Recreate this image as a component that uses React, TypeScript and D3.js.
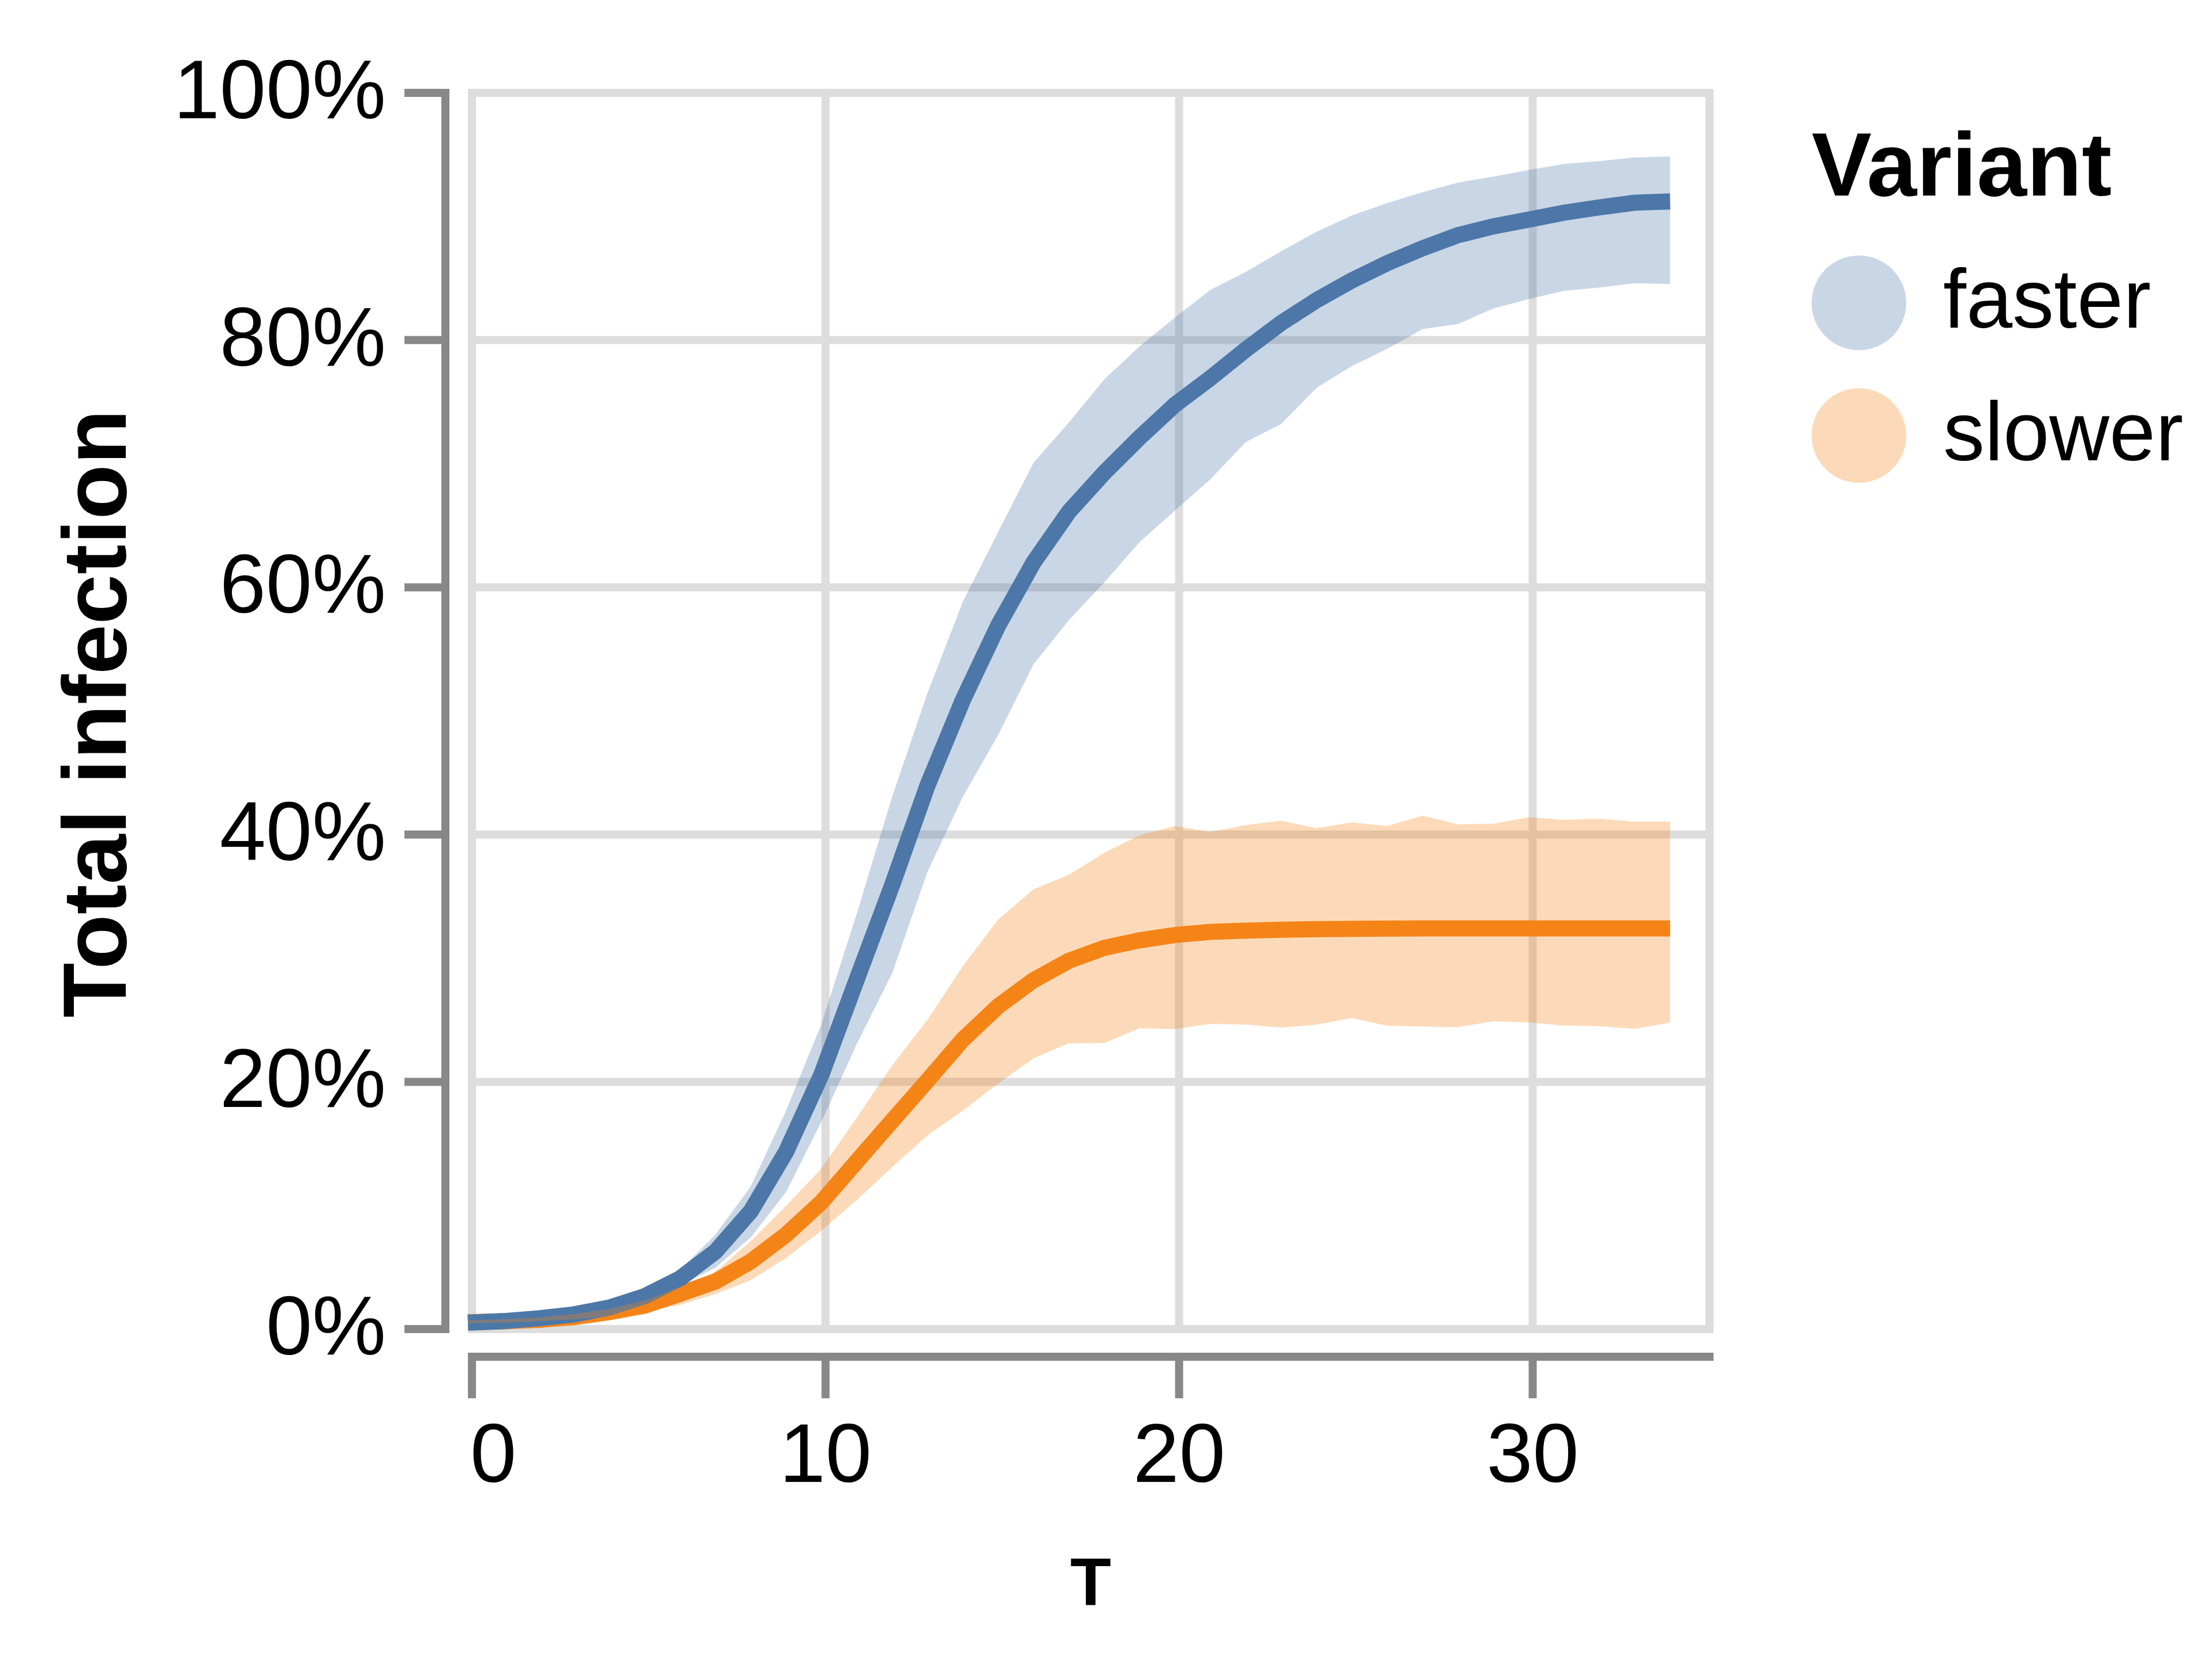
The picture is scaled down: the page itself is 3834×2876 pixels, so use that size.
import React, { useEffect, useRef } from 'react';
import * as d3 from 'd3';

// time steps
const tValues = [0, 1, 2, 3, 4, 5, 6, 7, 8, 9, 10, 11, 12, 13, 14, 15, 16, 17, 18, 19, 20, 21, 22, 23, 24, 25, 26, 27, 28, 29, 30, 31, 32, 33, 34];

const variants = ['faster', 'slower'];

// mean total infection and the band around it, per variant
const fasterMean = [0.0019, 0.0031, 0.0054, 0.0086, 0.0141, 0.0233, 0.0377, 0.0594, 0.092, 0.1402, 0.2027, 0.2797, 0.356, 0.4366, 0.5057, 0.566, 0.617, 0.658, 0.6895, 0.718, 0.7445, 0.766, 0.789, 0.8105, 0.829, 0.845, 0.859, 0.871, 0.8816, 0.8887, 0.8942, 0.8998, 0.9041, 0.9079, 0.9089];
const fasterLower = [0.0015, 0.0026, 0.0045, 0.007, 0.012, 0.02, 0.032, 0.0463, 0.0708, 0.1077, 0.1646, 0.2275, 0.2847, 0.3668, 0.4274, 0.4775, 0.5346, 0.5703, 0.6008, 0.6334, 0.659, 0.6842, 0.7143, 0.7289, 0.7581, 0.7758, 0.7897, 0.8057, 0.8097, 0.8223, 0.8299, 0.8366, 0.8393, 0.8428, 0.8422];
const fasterUpper = [0.0024, 0.0037, 0.0064, 0.0102, 0.016, 0.027, 0.0445, 0.0731, 0.1121, 0.1735, 0.2436, 0.3329, 0.4275, 0.5114, 0.5852, 0.6417, 0.6977, 0.7302, 0.765, 0.7918, 0.8151, 0.8374, 0.8519, 0.8687, 0.8843, 0.8976, 0.9076, 0.9164, 0.9242, 0.929, 0.9343, 0.9392, 0.9416, 0.9445, 0.9453];

const slowerMean = [0.0022, 0.003, 0.0042, 0.0064, 0.0104, 0.0157, 0.0252, 0.0351, 0.0514, 0.0731, 0.0994, 0.1324, 0.1652, 0.1978, 0.231, 0.2579, 0.279, 0.2947, 0.3051, 0.3112, 0.3155, 0.318, 0.319, 0.3198, 0.3202, 0.3205, 0.3207, 0.3208, 0.3208, 0.3208, 0.3208, 0.3208, 0.3208, 0.3208, 0.3208];
const slowerLower = [0.0014, 0.002, 0.003, 0.0045, 0.007, 0.011, 0.0162, 0.0251, 0.0363, 0.0541, 0.0764, 0.101, 0.1278, 0.1534, 0.1735, 0.1954, 0.2157, 0.2279, 0.2281, 0.2401, 0.2394, 0.2436, 0.243, 0.2405, 0.243, 0.2482, 0.2421, 0.2415, 0.2409, 0.2457, 0.2448, 0.2423, 0.2417, 0.2396, 0.2446];
const slowerUpper = [0.0037, 0.0045, 0.006, 0.009, 0.013, 0.02, 0.031, 0.0432, 0.0678, 0.0965, 0.1266, 0.1679, 0.21, 0.2471, 0.2904, 0.3282, 0.3525, 0.3642, 0.382, 0.3962, 0.4036, 0.3988, 0.4044, 0.4079, 0.4019, 0.4065, 0.4036, 0.412, 0.405, 0.4055, 0.4107, 0.4086, 0.4096, 0.4071, 0.4073];

const xTicks = [0, 10, 20, 30];
const yTicks = [0, 0.2, 0.4, 0.6, 0.8, 1];

const colors: Record<string, string> = { faster: '#4c78a8', slower: '#f58518' };
const font = '"Liberation Sans", Arial, Helvetica, sans-serif';

const App: React.FC = () => {
    const chartRef = useRef<SVGSVGElement | null>(null);

    useEffect(() => {
        if (!chartRef.current) return;
        document.body.style.margin = '0';

        const width = 3834;
        const height = 2876;
        const off = 7; // rules sit half a (scaled) pixel off the data

        const svg = d3.select(chartRef.current);
        svg.selectAll('*').remove();
        svg.attr('width', width).attr('height', height);

        svg.append('rect').attr('width', width).attr('height', height).attr('fill', '#fff');

        const x = d3.scaleLinear().domain([0, 35]).range([811, 2956]);
        const y = d3.scaleLinear().domain([0, 1]).range([2297, 154]);

        // grid + frame
        const grid = svg.append('g').attr('stroke', '#ddd').attr('stroke-width', 14);
        xTicks.forEach(t => {
            grid.append('line')
                .attr('x1', x(t) + off).attr('x2', x(t) + off)
                .attr('y1', y(1) + off).attr('y2', y(0) + off);
        });
        yTicks.forEach(v => {
            grid.append('line')
                .attr('x1', x(0) + off).attr('x2', x(35) + off)
                .attr('y1', y(v) + off).attr('y2', y(v) + off);
        });
        grid.append('rect')
            .attr('x', x(0) + off).attr('y', y(1) + off)
            .attr('width', x(35) - x(0)).attr('height', y(0) - y(1))
            .attr('fill', 'none');

        // y axis
        const yAxisX = 772;
        const yAxis = svg.append('g').attr('stroke', '#888').attr('stroke-width', 14);
        yAxis.append('line')
            .attr('x1', yAxisX).attr('x2', yAxisX)
            .attr('y1', y(1) + off - 7).attr('y2', y(0) + off + 7);
        yTicks.forEach(v => {
            yAxis.append('line')
                .attr('x1', yAxisX - 71).attr('x2', yAxisX)
                .attr('y1', y(v) + off).attr('y2', y(v) + off);
        });
        svg.append('g').selectAll('text')
            .data(yTicks)
            .enter()
            .append('text')
            .attr('x', 669)
            .attr('y', d => y(d) + 51)
            .attr('text-anchor', 'end')
            .style('font-family', font)
            .style('font-size', '144px')
            .style('fill', '#000')
            .text(d => d3.format('.0%')(d));

        // x axis
        const xAxisY = 2352;
        const xAxis = svg.append('g').attr('stroke', '#888').attr('stroke-width', 14);
        xAxis.append('line')
            .attr('x1', x(0) + off - 7).attr('x2', x(35) + off + 7)
            .attr('y1', xAxisY).attr('y2', xAxisY);
        xTicks.forEach(t => {
            xAxis.append('line')
                .attr('x1', x(t) + off).attr('x2', x(t) + off)
                .attr('y1', xAxisY).attr('y2', xAxisY + 72);
        });
        svg.append('g').selectAll('text')
            .data(xTicks)
            .enter()
            .append('text')
            .attr('x', d => (d === 0 ? x(d) + 4 : x(d) + off))
            .attr('y', 2569)
            .attr('text-anchor', d => (d === 0 ? 'start' : 'middle'))
            .style('font-family', font)
            .style('font-size', '144px')
            .style('fill', '#000')
            .text(d => String(d));

        // axis titles
        svg.append('text')
            .attr('x', (x(0) + x(35)) / 2 + off)
            .attr('y', 2783)
            .attr('text-anchor', 'middle')
            .style('font-family', font)
            .style('font-weight', 'bold')
            .style('font-size', '116px')
            .style('fill', '#000')
            .text('T');

        svg.append('text')
            .attr('transform', 'translate(218, 1237) rotate(-90)')
            .attr('text-anchor', 'middle')
            .style('font-family', font)
            .style('font-weight', 'bold')
            .style('font-size', '156px')
            .style('fill', '#000')
            .text('Total infection');

        // series
        const series = [
            { key: 'faster', mean: fasterMean, lower: fasterLower, upper: fasterUpper },
            { key: 'slower', mean: slowerMean, lower: slowerLower, upper: slowerUpper },
        ];

        const line = d3.line<number>()
            .x((_, i) => x(tValues[i]))
            .y(d => y(d));

        const area = (lo: number[], hi: number[]) => d3.area<number>()
            .x((_, i) => x(tValues[i]))
            .y0((_, i) => y(lo[i]))
            .y1((_, i) => y(hi[i]))(tValues);

        // slower line under faster line, bands over both
        [series[1], series[0]].forEach(s => {
            svg.append('path')
                .attr('d', line(s.mean))
                .attr('fill', 'none')
                .attr('stroke', colors[s.key])
                .attr('stroke-width', 28)
                .attr('stroke-linejoin', 'miter');
        });
        series.forEach(s => {
            svg.append('path')
                .attr('d', area(s.lower, s.upper))
                .attr('fill', colors[s.key])
                .attr('fill-opacity', 0.3);
        });

        // legend
        const legend = svg.append('g');
        legend.append('text')
            .attr('x', 3140)
            .attr('y', 339)
            .style('font-family', font)
            .style('font-weight', 'bold')
            .style('font-size', '156px')
            .style('fill', '#000')
            .text('Variant');

        variants.forEach((v, i) => {
            const row = legend.append('g')
                .attr('transform', `translate(0, ${i * 230})`);
            row.append('circle')
                .attr('cx', 3222)
                .attr('cy', 525)
                .attr('r', 82)
                .attr('fill', colors[v])
                .attr('fill-opacity', 0.3);
            row.append('text')
                .attr('x', 3368)
                .attr('y', 568)
                .style('font-family', font)
                .style('font-size', '144px')
                .style('fill', '#000')
                .text(v);
        });
    }, []);

    return <svg ref={chartRef} style={{ display: 'block' }} />;
};

export default App;
